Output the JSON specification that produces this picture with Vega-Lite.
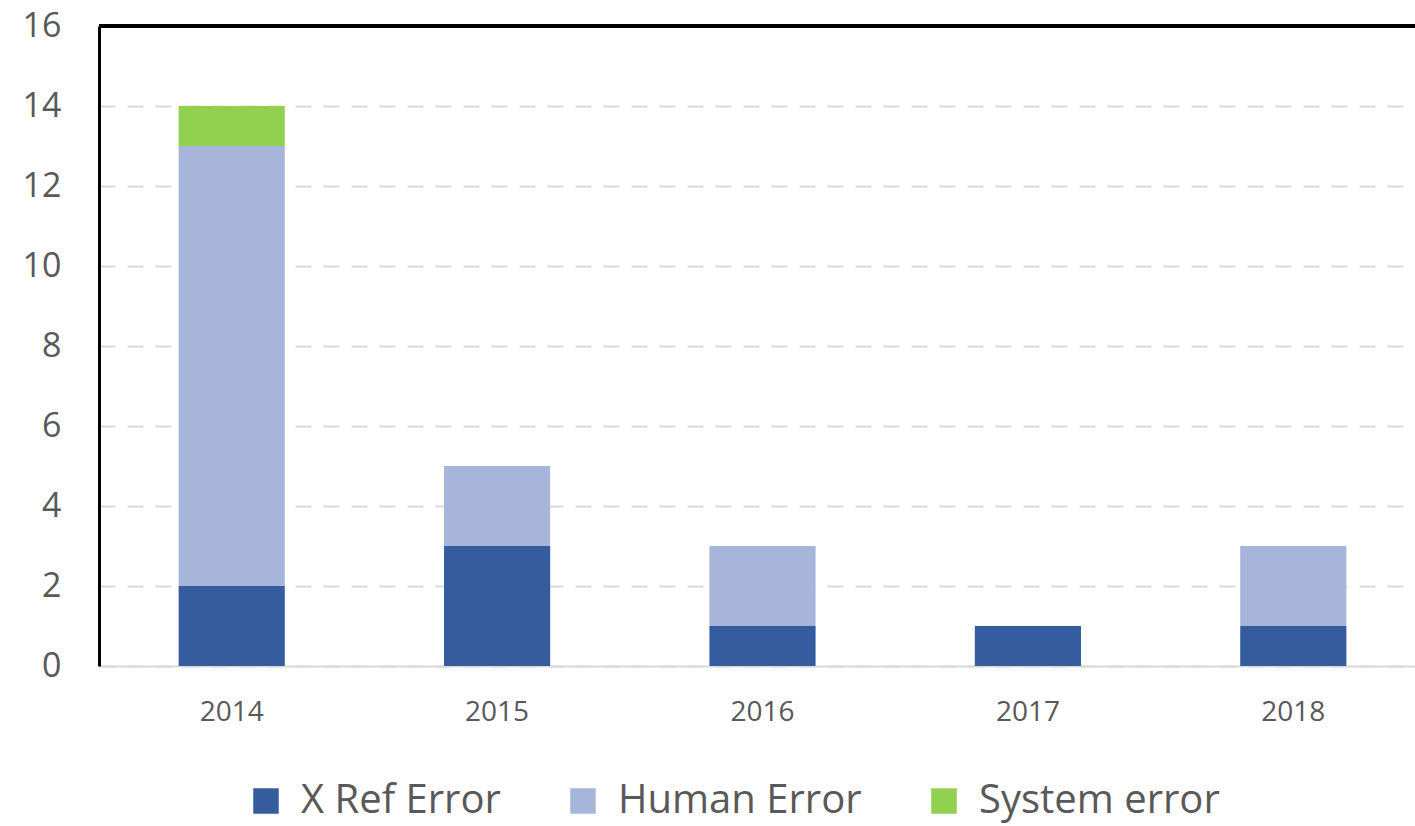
{
  "$schema": "https://vega.github.io/schema/vega-lite/v6.json",
  "autosize": "none",
  "padding": {"left": 99, "top": 26, "right": 0, "bottom": 160},
  "width": 1327,
  "height": 640,
  "background": "white",
  "config": {
    "view": {"stroke": null},
    "font": "Open Sans",
    "axis": {"labelFont": "Open Sans", "labelColor": "#595959"}
  },
  "data": {
    "values": [
      {"year": "2014", "type": "X Ref Error", "count": 2, "ord": 1},
      {"year": "2014", "type": "Human Error", "count": 11, "ord": 2},
      {"year": "2014", "type": "System error", "count": 1, "ord": 3},
      {"year": "2015", "type": "X Ref Error", "count": 3, "ord": 1},
      {"year": "2015", "type": "Human Error", "count": 2, "ord": 2},
      {"year": "2016", "type": "X Ref Error", "count": 1, "ord": 1},
      {"year": "2016", "type": "Human Error", "count": 2, "ord": 2},
      {"year": "2017", "type": "X Ref Error", "count": 1, "ord": 1},
      {"year": "2018", "type": "X Ref Error", "count": 1, "ord": 1},
      {"year": "2018", "type": "Human Error", "count": 2, "ord": 2}
    ]
  },
  "layer": [
    {
      "mark": {"type": "bar"},
      "encoding": {
        "x": {
          "field": "year", "type": "nominal",
          "scale": {"paddingInner": 0.6, "paddingOuter": 0.3},
          "axis": {
            "title": null, "labelAngle": 0, "ticks": false,
            "labelFontSize": 28, "labelPadding": 32,
            "domainColor": "#d9d9d9", "domainWidth": 2, "grid": false
          }
        },
        "y": {
          "field": "count", "type": "quantitative", "aggregate": "sum",
          "scale": {"domain": [0, 16]},
          "axis": {
            "title": null, "values": [0, 2, 4, 6, 8, 10, 12, 14, 16],
            "ticks": false, "labelFontSize": 34, "labelPadding": 38,
            "domainColor": "black", "domainWidth": 3,
            "gridColor": "#d9d9d9", "gridDash": [16, 12], "gridWidth": 2
          }
        },
        "color": {
          "field": "type", "type": "nominal",
          "scale": {
            "domain": ["X Ref Error", "Human Error", "System error"],
            "range": ["#355C9F", "#A7B5DA", "#92D050"]
          },
          "legend": {
            "title": null, "orient": "none", "direction": "horizontal",
            "legendX": 147, "legendY": 755,
            "symbolType": "square", "symbolSize": 650,
            "symbolStrokeWidth": 0,
            "labelFont": "Open Sans", "labelFontSize": 40, "labelColor": "#595959",
            "labelOffset": 15, "columnPadding": 62, "labelLimit": 500
          }
        },
        "order": {"field": "ord", "type": "quantitative"}
      }
    },
    {
      "mark": {"type": "rule", "color": "black", "strokeWidth": 3},
      "encoding": {"y": {"datum": 16}}
    }
  ]
}
